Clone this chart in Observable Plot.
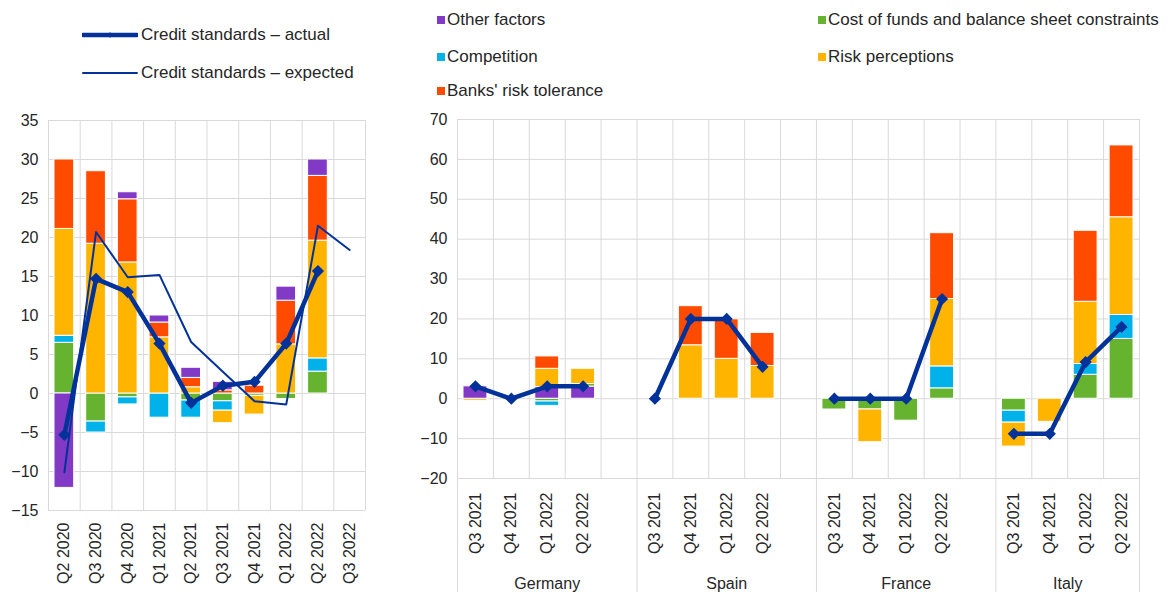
<!DOCTYPE html>
<html><head><meta charset="utf-8">
<script src="https://cdn.jsdelivr.net/npm/d3@7"></script>
<script src="https://cdn.jsdelivr.net/npm/@observablehq/plot@0.6"></script>
<style>
body{margin:0;background:#fff;font-family:"Liberation Sans",Arial,sans-serif;}
#root{position:relative;width:1172px;height:592px;overflow:hidden;background:#fff;}
.panel{position:absolute;top:0;}
.leg{position:absolute;font-size:17px;color:#262626;white-space:nowrap;line-height:16px;}
.sw{position:absolute;width:8px;height:8px;}
</style></head><body><div id="root"></div>
<script>
// ---- shared ----
const factorNames = ["Cost of funds and balance sheet constraints","Competition","Risk perceptions","Banks' risk tolerance","Other factors"];
const factorColors = ["#65b32e","#00b1ea","#ffb400","#ff4b00","#8139c6"];
const navy = "#003299";
const lineNames = ["Credit standards – actual","Credit standards – expected"];

// ---- left panel (euro area, quarters) ----
const leftQuarters = ["Q2 2020","Q3 2020","Q4 2020","Q1 2021","Q2 2021","Q3 2021","Q4 2021","Q1 2022","Q2 2022","Q3 2022"];
const leftCost          = [6.5,-3.6,-0.5,0,-0.9,-1.0,-0.3,-0.7,2.8,0];
const leftCompetition   = [0.9,-1.4,-0.9,-3.1,-2.2,-1.2,0,0,1.7,0];
const leftRiskPerception= [13.7,19.2,16.8,7.2,0.8,-1.6,-2.4,6.3,15.1,0];
const leftRiskTolerance = [8.9,9.3,8.1,1.9,1.2,0.4,1.0,5.6,8.3,0];
const leftOther         = [-12.1,0,0.9,0.9,1.3,1.1,0,1.8,2.1,0];
const leftActual   = [-5.3,14.7,13.0,6.4,-1.2,1.0,1.5,6.4,15.7,null];
const leftExpected = [-10.1,20.7,14.9,15.2,6.6,2.8,-1.0,-1.4,21.5,18.4];
const leftYTicks = [-15,-10,-5,0,5,10,15,20,25,30,35];

// ---- right panel (countries) ----
const countries = ["Germany","Spain","France","Italy"];
const rightQuarters = ["Q3 2021","Q4 2021","Q1 2022","Q2 2022"];
// values in country order (Germany, Spain, France, Italy), 4 quarters each
const rightOther         = [3.1,0,2.9,3.0,   0,0,0,0,        0,0,0,0,          0,0,0,0];
const rightCost          = [0,0,-0.7,0.7,    0,0,0,0,        -2.7,-2.7,-5.5,2.6, -3.0,0,6.0,15.0];
const rightCompetition   = [0,0,-1.1,0,      0,0,0,0,        0,0,0,5.5,        -3.0,0,2.7,6.0];
const rightRiskPerception= [-0.5,0,4.6,3.8,  0,13.4,10.0,8.2, 0,-8.2,0,16.9,   -6.0,-5.8,15.6,24.5];
const rightRiskTolerance = [0,0,3.1,0,       0,9.8,9.9,8.3,  0,0,0,16.5,       0,0,17.8,18.0];
const rightActual        = [3.1,0,3.1,3.1,   0,20,20,8,      0,0,0,25,         -8.8,-8.8,9.2,18.0];
const rightYTicks = [-20,-10,0,10,20,30,40,50,60,70];

// ---- build tables ----
const leftSeries = [leftCost,leftCompetition,leftRiskPerception,leftRiskTolerance,leftOther];
const leftRows = [];
leftQuarters.forEach((q,i)=>leftSeries.forEach((s,k)=>{ if (s[i]) leftRows.push({slot:i, slot2:i+1, factor:factorNames[k], value:s[i]}); }));
const leftLine = leftQuarters.map((q,i)=>({xc:i+0.5, actual:leftActual[i], expected:leftExpected[i]}));

const rightSeries = [rightCost,rightCompetition,rightRiskPerception,rightRiskTolerance,rightOther];
const rightOrder = ["Other factors","Cost of funds and balance sheet constraints","Competition","Risk perceptions","Banks' risk tolerance"];
const groupSize = rightQuarters.length + 1;
const rightRows = [], rightLine = [], rightLabelSlots = [];
countries.forEach((c,ci)=>rightQuarters.forEach((q,qi)=>{
  const k = ci*rightQuarters.length + qi;
  const slot = ci*groupSize + qi;
  rightLabelSlots.push({pos:slot+0.5, label:q});
  rightSeries.forEach((s,f)=>{ if (s[k]) rightRows.push({slot, slot2:slot+1, factor:factorNames[f], value:s[k]}); });
  rightLine.push({xc:slot+0.5, country:c, actual:rightActual[k]});
}));
const nSlots = countries.length*groupSize - 1;
const groupEdges = countries.map((c,ci)=>ci*groupSize).concat([nSlots]);
const groupCenters = countries.map((c,ci)=>(groupEdges[ci]+groupEdges[ci+1])/2);

const grid = "#d9d9d9";
const font = {fontFamily:"'Liberation Sans', Arial, sans-serif", fontSize:"16px", color:"#262626", background:"transparent", overflow:"visible"};

const left = Plot.plot({
  width: 380, height: 592,
  marginLeft: 48, marginRight: 15, marginTop: 120, marginBottom: 82,
  style: font,
  x: {domain:[0, leftQuarters.length], axis:null},
  y: {domain:[leftYTicks[0], leftYTicks[leftYTicks.length-1]], axis:null},
  color: {domain:factorNames, range:factorColors},
  marks: [
    Plot.gridX(d3.range(0, leftQuarters.length+1), {stroke:grid, strokeOpacity:1}),
    Plot.gridY(leftYTicks, {stroke:grid, strokeOpacity:1}),
    Plot.axisY(leftYTicks, {tickSize:0, tickPadding:10, fontSize:16}),
    Plot.axisX(leftLine.map(d=>d.xc), {tickSize:0, tickPadding:12, tickRotate:-90, fontSize:16, tickFormat:v=>leftQuarters[Math.floor(v)]}),
    Plot.rectY(leftRows, {x1:"slot", x2:"slot2", y:"value", fill:"factor", order:factorNames, insetLeft:6, insetRight:6, stroke:"white", strokeWidth:1}),
    Plot.line(leftLine, {x:"xc", y:"expected", stroke:navy, strokeWidth:2}),
    Plot.line(leftLine, {x:"xc", y:"actual", stroke:navy, strokeWidth:4.5}),
    Plot.dot(leftLine, {x:"xc", y:"actual", symbol:"diamond2", r:5.5, fill:navy, stroke:null})
  ]
});

const right = Plot.plot({
  width: 782, height: 592,
  marginLeft: 67, marginRight: 33, marginTop: 119, marginBottom: 114,
  style: font,
  x: {domain:[0, nSlots], axis:null},
  y: {domain:[rightYTicks[0], rightYTicks[rightYTicks.length-1]], axis:null},
  color: {domain:factorNames, range:factorColors},
  marks: [
    Plot.gridX(d3.range(0, nSlots+1), {stroke:grid, strokeOpacity:1}),
    Plot.gridY(rightYTicks, {stroke:grid, strokeOpacity:1}),
    Plot.axisX(groupEdges, {tickSize:114, stroke:grid, strokeOpacity:1, tickFormat:()=>""}),
    Plot.axisY(rightYTicks, {tickSize:0, tickPadding:10, fontSize:16}),
    Plot.axisX(rightLabelSlots.map(d=>d.pos), {tickSize:0, tickPadding:14, tickRotate:-90, fontSize:16, tickFormat:v=>rightQuarters[Math.floor(v)%groupSize]}),
    Plot.axisX(groupCenters, {tickSize:0, tickPadding:99, fontSize:16, tickFormat:v=>countries[groupCenters.indexOf(v)]}),
    Plot.rectY(rightRows, {x1:"slot", x2:"slot2", y:"value", fill:"factor", order:rightOrder, insetLeft:6, insetRight:6, stroke:"white", strokeWidth:1}),
    Plot.line(rightLine, {x:"xc", y:"actual", z:"country", stroke:navy, strokeWidth:4.5}),
    Plot.dot(rightLine, {x:"xc", y:"actual", symbol:"diamond2", r:5.5, fill:navy, stroke:null})
  ]
});

const root = document.getElementById("root");
left.classList.add("panel"); left.style.left = "0px";
right.classList.add("panel"); right.style.left = "390px";
root.appendChild(left); root.appendChild(right);

// ---- legends ----
function addLineLegend(name, top, width, marker){
  const d = document.createElement("div");
  d.className = "leg"; d.style.left = "82px"; d.style.top = (top-8)+"px";
  d.innerHTML = `<svg width="56" height="16" style="vertical-align:top;margin-right:3px"><line x1="1" x2="55" y1="8" y2="8" stroke="${navy}" stroke-width="${width}" stroke-linecap="round"/>${marker?`<path d="M28,5L30,8L28,11L26,8Z" fill="${navy}"/>`:""}</svg>${name}`;
  root.appendChild(d);
}
addLineLegend(lineNames[0], 35, 4.5, true);
addLineLegend(lineNames[1], 73, 2, false);

const legendPos = {
  "Other factors":[437,20], "Competition":[437,57], "Banks' risk tolerance":[437,91],
  "Cost of funds and balance sheet constraints":[818,20], "Risk perceptions":[818,57]
};
factorNames.forEach((n,i)=>{
  const [x,y] = legendPos[n];
  const s = document.createElement("div"); s.className="sw"; s.style.left=x+"px"; s.style.top=(y-4)+"px"; s.style.background=factorColors[i];
  const t = document.createElement("div"); t.className="leg"; t.style.left=(x+10)+"px"; t.style.top=(y-8)+"px"; t.textContent=n;
  root.appendChild(s); root.appendChild(t);
});
</script></body></html>
